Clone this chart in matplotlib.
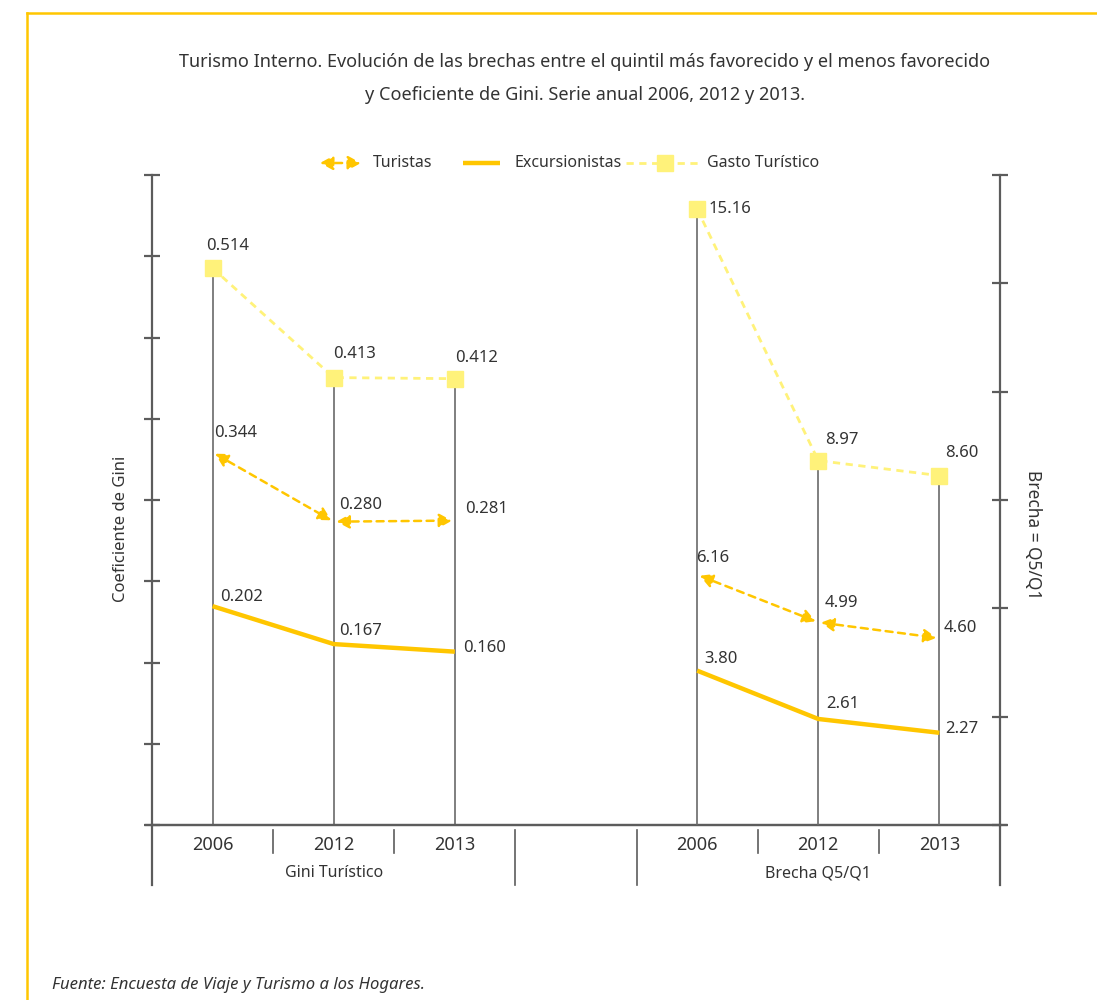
import matplotlib
matplotlib.use("Agg")
import matplotlib.pyplot as plt
import matplotlib.transforms as mtrans
from matplotlib.lines import Line2D
from matplotlib.patches import FancyArrowPatch

plt.rcParams['font.family'] = ['Noto Sans', 'DejaVu Sans']

# ---------------- data ----------------
years = ['2006', '2012', '2013']
groups = ['Gini Turístico', 'Brecha Q5/Q1']
gini_turistas = [0.344, 0.280, 0.281]
gini_excursionistas = [0.202, 0.167, 0.160]
gini_gasto = [0.514, 0.413, 0.412]
brecha_turistas = [6.16, 4.99, 4.60]
brecha_excursionistas = [3.80, 2.61, 2.27]
brecha_gasto = [15.16, 8.97, 8.60]
series_names = ['Turistas', 'Excursionistas', 'Gasto Turístico']
title_lines = ['Turismo Interno. Evolución de las brechas entre el quintil más favorecido y el menos favorecido',
               'y Coeficiente de Gini. Serie anual 2006, 2012 y 2013.']
ylabel_left = 'Coeficiente de Gini'
ylabel_right = 'Brecha = Q5/Q1'
source = 'Fuente: Encuesta de Viaje y Turismo a los Hogares.'

# ---------------- style ----------------
W, H = 1097, 1000
C_GOLD = '#FFC600'
C_LIGHT = '#FFF27A'
C_AXIS = '#5c5c5c'
C_STEM = '#6a6a6a'
C_TEXT = '#333333'
FS = 11.5
FS_NUM = 12
FS_YEAR = 13

def px(x, y):
    return (x / W, 1 - y / H)

fig = plt.figure(figsize=(W / 100, H / 100), dpi=100)
fig.patch.set_facecolor('white')

ax = fig.add_axes([152 / W, 175 / H, 848 / W, 650 / H])
ax2 = ax.twinx()
ax.set_xlim(0, 7)
ax.set_ylim(0, 0.6)
ax2.set_ylim(0, 16)

xl = [0.5, 1.5, 2.5]
xr = [4.5, 5.5, 6.5]

# spines / ticks
for a in (ax, ax2):
    a.spines['top'].set_visible(False)
    a.set_xticks([])
    for s in a.spines.values():
        s.set_color(C_AXIS)
        s.set_linewidth(1.6)
ax.spines['right'].set_visible(False)
ax2.spines['left'].set_visible(False)
ax2.spines['bottom'].set_visible(False)
ax.set_yticks([i * 0.075 for i in range(9)])
ax.set_yticklabels([])
ax2.set_yticks([i * 16 / 6 for i in range(7)])
ax2.set_yticklabels([])
ax.tick_params(axis='y', direction='inout', length=11, width=1.6, color=C_AXIS)
ax2.tick_params(axis='y', direction='inout', length=11, width=1.6, color=C_AXIS)

# stems
ax.vlines(xl, 0, gini_gasto, color=C_STEM, lw=1.2, zorder=1)
ax2.vlines(xr, 0, brecha_gasto, color=C_STEM, lw=1.2, zorder=1)

def draw_group(a, xs, tur, exc, gas):
    a.plot(xs, gas, color=C_LIGHT, lw=2.0, ls=(0, (2.6, 2.0)), marker='s',
           markersize=11, markerfacecolor=C_LIGHT, markeredgecolor=C_LIGHT, zorder=3)
    a.plot(xs, exc, color=C_GOLD, lw=3.2, solid_capstyle='butt', zorder=3)
    for i in range(len(xs) - 1):
        arr = FancyArrowPatch((xs[i], tur[i]), (xs[i + 1], tur[i + 1]),
                              arrowstyle='<|-|>,head_length=0.55,head_width=0.3',
                              mutation_scale=14, color=C_GOLD, lw=1.8,
                              linestyle=(0, (2.8, 2.2)), shrinkA=2, shrinkB=2, zorder=4)
        a.add_patch(arr)

draw_group(ax, xl, gini_turistas, gini_excursionistas, gini_gasto)
draw_group(ax2, xr, brecha_turistas, brecha_excursionistas, brecha_gasto)

# data labels: offsets in pixels (dx, dy up) from point to label's left/center
off_gini_gas = [(-6, 22), (-1, 24), (0, 21)]
off_gini_tur = [(2, 19), (5, 17), (10, 12)]
off_gini_exc = [(8, 9), (5, 13), (8, 4)]
off_br_gas = [(11, 0), (7, 21), (6, 23)]
off_br_tur = [(-1, 17), (6, 19), (4, 10)]
off_br_exc = [(7, 12), (8, 15), (6, 4)]

def labels(a, xs, vals, offs, fmt):
    for x, v, (dx, dy) in zip(xs, vals, offs):
        a.annotate(fmt.format(v), (x, v), xytext=(dx * 0.72, dy * 0.72),
                   textcoords='offset points', ha='left', va='center',
                   fontsize=FS_NUM, color=C_TEXT, zorder=5)

labels(ax, xl, gini_gasto, off_gini_gas, '{:.3f}')
labels(ax, xl, gini_turistas, off_gini_tur, '{:.3f}')
labels(ax, xl, gini_excursionistas, off_gini_exc, '{:.3f}')
labels(ax2, xr, brecha_gasto, off_br_gas, '{:.2f}')
labels(ax2, xr, brecha_turistas, off_br_tur, '{:.2f}')
labels(ax2, xr, brecha_excursionistas, off_br_exc, '{:.2f}')

# category axis below
tr = mtrans.blended_transform_factory(ax.transData, ax.transAxes)
hh = 650.0
for xs in (xl, xr):
    for x, yr in zip(xs, years):
        ax.text(x, -20 / hh, yr, transform=tr, ha='center', va='center',
                fontsize=FS_YEAR, color=C_TEXT)
ax.text(1.5, -48 / hh, groups[0], transform=tr, ha='center', va='center',
        fontsize=FS, color=C_TEXT)
ax.text(5.5, -48 / hh, groups[1], transform=tr, ha='center', va='center',
        fontsize=FS, color=C_TEXT)
for x in (1, 2, 5, 6):
    ax.plot([x, x], [-5 / hh, -28 / hh], transform=tr, color=C_AXIS, lw=1.2, clip_on=False)
for x in (3, 4):
    ax.plot([x, x], [-5 / hh, -60 / hh], transform=tr, color=C_AXIS, lw=1.2, clip_on=False)
for x in (0, 7):
    ax.plot([x, x], [0, -60 / hh], transform=tr, color=C_AXIS, lw=1.6, clip_on=False)
ax.plot([-0.05, 7.05], [0, 0], transform=tr, color=C_AXIS, lw=1.6, clip_on=False)

# axis titles
fig.text(*px(121, 529), ylabel_left, rotation=90, ha='center', va='center',
         fontsize=12, color=C_TEXT)
fig.text(*px(1033, 535), ylabel_right, rotation=270, ha='center', va='center',
         fontsize=12.5, color=C_TEXT)

# title
fig.text(*px(585, 62), title_lines[0], ha='center', va='center', fontsize=13, color=C_TEXT)
fig.text(*px(585, 95), title_lines[1], ha='center', va='center', fontsize=13, color=C_TEXT)

# legend (manual)
ly = 163
fig.add_artist(FancyArrowPatch(px(320, ly), px(361, ly), transform=fig.transFigure,
                               arrowstyle='<|-|>,head_length=0.55,head_width=0.3',
                               mutation_scale=14, color=C_GOLD, lw=1.8,
                               linestyle=(0, (2.8, 2.2)), shrinkA=0, shrinkB=0))
fig.text(*px(373, ly), series_names[0], ha='left', va='center', fontsize=FS, color=C_TEXT)
fig.add_artist(Line2D([463 / W, 500 / W], [1 - ly / H] * 2, transform=fig.transFigure,
                      color=C_GOLD, lw=3.2, solid_capstyle='butt'))
fig.text(*px(515, ly), series_names[1], ha='left', va='center', fontsize=FS, color=C_TEXT)
fig.add_artist(Line2D([626 / W, 700 / W], [1 - ly / H] * 2, transform=fig.transFigure,
                      color=C_LIGHT, lw=2.0, ls=(0, (2.6, 2.0))))
fig.add_artist(Line2D([665 / W], [1 - ly / H], transform=fig.transFigure, marker='s',
                      markersize=11, color=C_LIGHT, lw=0))
fig.text(*px(707, ly), series_names[2], ha='left', va='center', fontsize=FS, color=C_TEXT)

# source
fig.text(*px(52, 985), source, ha='left', va='center', fontsize=12, style='italic',
         color=C_TEXT)

# yellow frame
fig.add_artist(Line2D([27 / W, 1.0], [1 - 13 / H] * 2, transform=fig.transFigure,
                      color=C_GOLD, lw=1.8))
fig.add_artist(Line2D([27 / W, 27 / W], [0, 1 - 13 / H], transform=fig.transFigure,
                      color=C_GOLD, lw=1.8))

fig.savefig('out.png', dpi=100, facecolor='white')
